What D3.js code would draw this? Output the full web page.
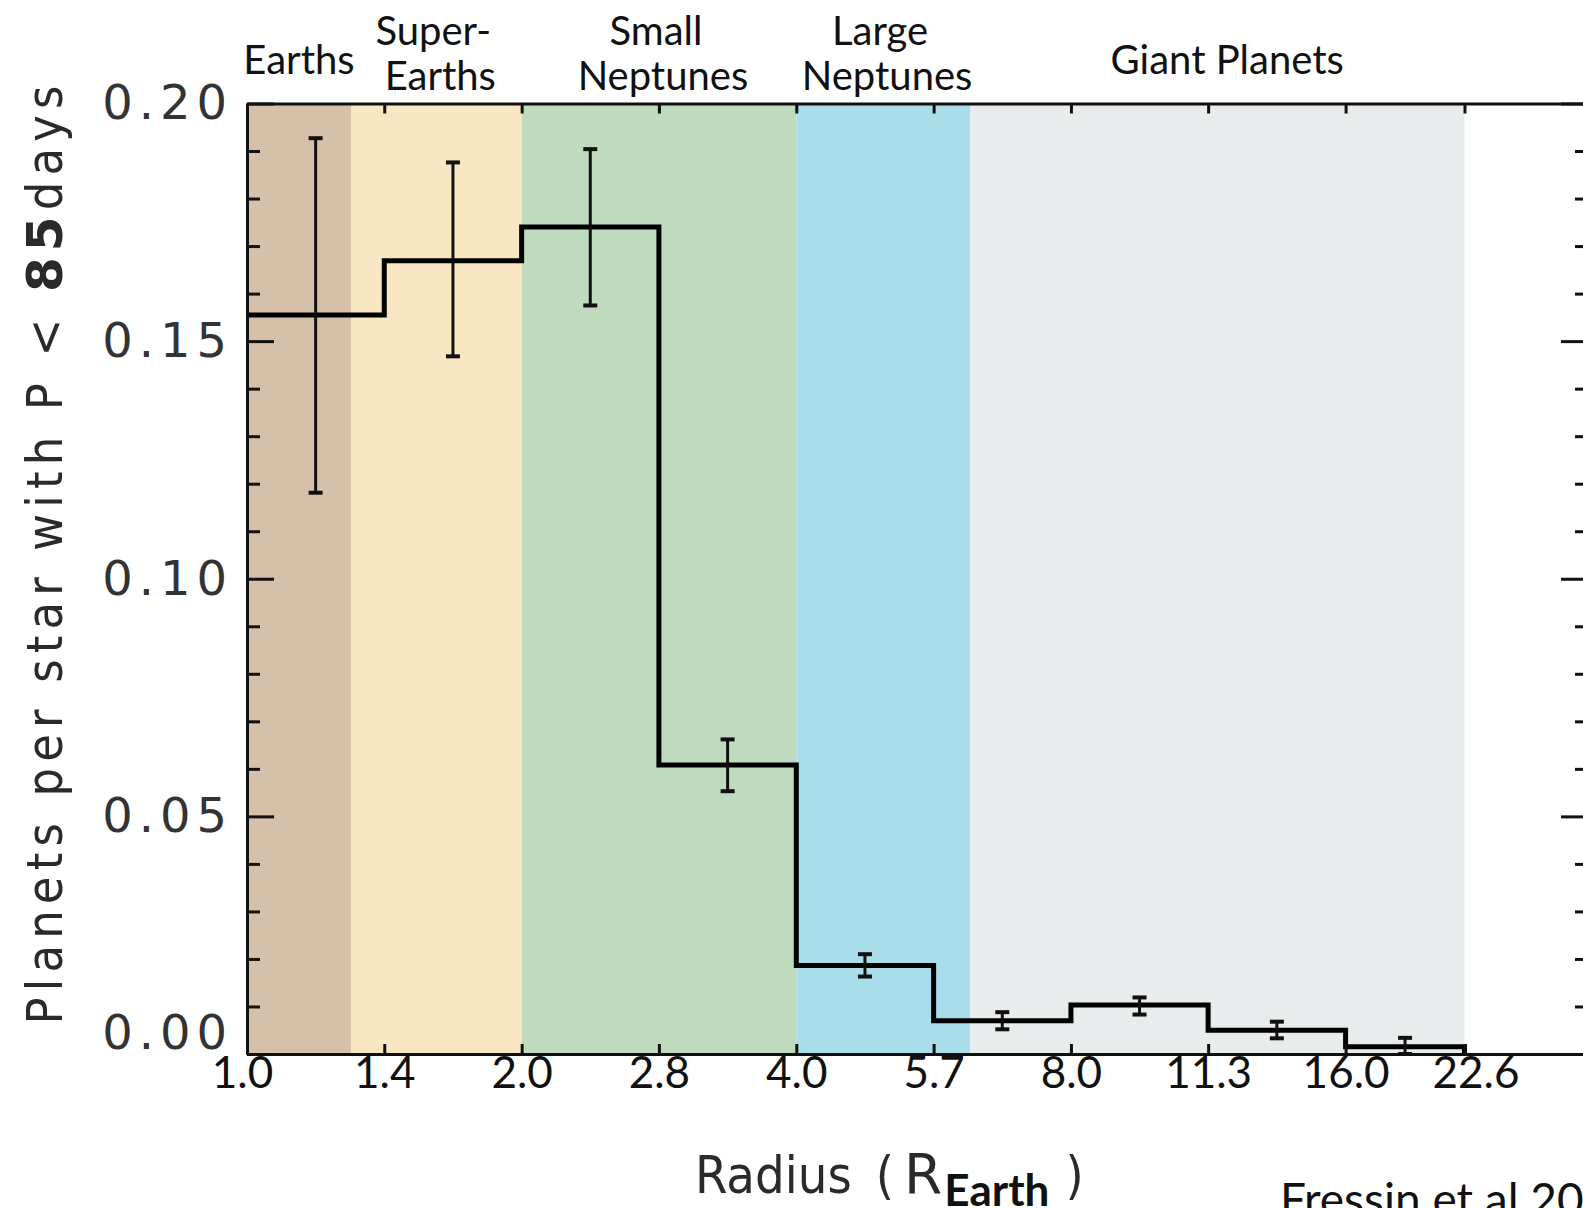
<!DOCTYPE html>
<html><head><meta charset="utf-8">
<script src="https://cdn.jsdelivr.net/npm/d3@7"></script>
<style>
html,body{margin:0;padding:0;background:#fff;overflow:hidden}
</style></head><body>
<svg id="chart" width="1583" height="1208"></svg>
<script>
// ---- data ----
const binEdges = [1.0, 1.414, 2.0, 2.828, 4.0, 5.657, 8.0, 11.31, 16.0, 21.6];
const rates    = [0.1555, 0.1669, 0.1740, 0.0608, 0.0186, 0.0070, 0.0103, 0.0050, 0.0015];
const errLow   = [0.1181, 0.1468, 0.1575, 0.0553, 0.0163, 0.0052, 0.0083, 0.0033, 0.0000];
const errHigh  = [0.1927, 0.1876, 0.1904, 0.0662, 0.0210, 0.0088, 0.0119, 0.0068, 0.0034];
const classNames  = [["Earths"], ["Super-", "Earths"], ["Small", "Neptunes"], ["Large", "Neptunes"], ["Giant Planets"]];
const classEdges  = [1.0, 1.3, 2.0, 4.0, 6.2, 21.6];
const classColors = ["#d7c0a9", "#f9e7c3", "#bedcbd", "#a9dde9", "#e9eced"];
const xTickValues = [1.0, 1.414, 2.0, 2.828, 4.0, 5.657, 8.0, 11.31, 16.0, 21.6];
const xTickLabels = ["1.0", "1.4", "2.0", "2.8", "4.0", "5.7", "8.0", "11.3", "16.0", "22.6"];
const yMajorTicks = [0.00, 0.05, 0.10, 0.15, 0.20];
const yMinorTicks = [0.01, 0.02, 0.03, 0.04, 0.06, 0.07, 0.08, 0.09, 0.11, 0.12, 0.13, 0.14, 0.16, 0.17, 0.18, 0.19];
const xDomain = [1.0, 29.5];
const yDomain = [0, 0.20];

// ---- layout ----
const L = 247, R = 1588, T = 103.5, B = 1054;
const hershey = "'DejaVu Sans Condensed', 'DejaVu Sans', sans-serif";
const svg = d3.select("#chart");
svg.append("rect").attr("width", 1583).attr("height", 1208).attr("fill", "#fff");

const x = d3.scaleLog().base(2).domain(xDomain).range([L, R]);
const y = d3.scaleLinear().domain(yDomain).range([B, T]);

// class bands
svg.append("g").selectAll("rect").data(classColors).join("rect")
  .attr("x", (d, i) => x(classEdges[i]))
  .attr("width", (d, i) => x(classEdges[i + 1]) - x(classEdges[i]))
  .attr("y", T).attr("height", B - T)
  .attr("fill", d => d);

// class labels
const labG = svg.append("g").attr("font-family", "Lato, 'Open Sans', sans-serif")
  .attr("font-size", 40).attr("text-anchor", "middle").attr("fill", "#111");
classNames.forEach((lines, i) => {
  const cx = (x(classEdges[i]) + x(classEdges[i + 1])) / 2;
  if (lines.length === 1) {
    labG.append("text").attr("x", cx).attr("y", 74).attr("dx", i === classNames.length - 1 ? 10 : 0).text(lines[0]);
  } else {
    labG.append("text").attr("x", cx).attr("y", 45).attr("dx", -3).text(lines[0]);
    labG.append("text").attr("x", cx).attr("y", 90).attr("dx", 4).text(lines[1]);
  }
});

// histogram step line
const pts = binEdges.slice(0, -1).map((e, i) => [e, rates[i]]);
pts.push([binEdges[binEdges.length - 1], 0]);
const line = d3.line().x(d => x(d[0])).y(d => y(d[1])).curve(d3.curveStepAfter);
svg.append("path").attr("d", line(pts)).attr("fill", "none")
  .attr("stroke", "#000").attr("stroke-width", 5).attr("stroke-linejoin", "miter");

// error bars
const eb = svg.append("g").attr("stroke", "#111");
rates.forEach((r, i) => {
  const cx = x(Math.sqrt(binEdges[i] * binEdges[i + 1]));
  eb.append("line").attr("x1", cx).attr("x2", cx).attr("y1", y(errLow[i])).attr("y2", y(errHigh[i])).attr("stroke-width", 3);
  [errLow[i], errHigh[i]].forEach(v => {
    eb.append("line").attr("x1", cx - 7).attr("x2", cx + 7).attr("y1", y(v)).attr("y2", y(v)).attr("stroke-width", 4);
  });
});

// axes
function styleAxis(g) {
  g.selectAll("path.domain").attr("stroke", "#111").attr("stroke-width", 3);
  g.selectAll(".tick line").attr("stroke", "#111").attr("stroke-width", 3);
}
// left
const gl = svg.append("g").attr("transform", `translate(${L},0)`)
  .call(d3.axisLeft(y).tickValues(yMajorTicks).tickSize(-27).tickSizeOuter(0).tickPadding(14).tickFormat(d3.format(".2f")));
styleAxis(gl);
gl.selectAll("text").attr("font-family", "'DejaVu Sans', sans-serif").attr("font-weight", 400)
  .attr("font-size", 48).attr("letter-spacing", 6).attr("fill", "#333")
  .attr("dy", d => d === 0 ? "0em" : "0.32em")
  .attr("y", d => d === 0 ? -6 : 0);
const glm = svg.append("g").attr("transform", `translate(${L},0)`)
  .call(d3.axisLeft(y).tickValues(yMinorTicks).tickSize(-13).tickSizeOuter(0).tickFormat(""));
styleAxis(glm);
// right
const gr = svg.append("g").attr("transform", `translate(${R},0)`)
  .call(d3.axisRight(y).tickValues(yMajorTicks).tickSize(-27).tickSizeOuter(0).tickFormat(""));
styleAxis(gr);
const grm = svg.append("g").attr("transform", `translate(${R},0)`)
  .call(d3.axisRight(y).tickValues(yMinorTicks).tickSize(-13).tickSizeOuter(0).tickFormat(""));
styleAxis(grm);
// bottom
const gb = svg.append("g").attr("transform", `translate(0,${B})`)
  .call(d3.axisBottom(x).tickValues(xTickValues).tickSize(-10).tickSizeOuter(0).tickPadding(3)
    .tickFormat((d, i) => xTickLabels[i]));
styleAxis(gb);
gb.selectAll("text").attr("font-family", "Lato, 'Open Sans', sans-serif").attr("font-size", 44).attr("fill", "#111")
  .attr("dx", (d, i) => i === xTickValues.length - 1 ? 11 : (i === 0 ? -5 : 0));
// top
const gt = svg.append("g").attr("transform", `translate(0,${T})`)
  .call(d3.axisTop(x).tickValues(xTickValues).tickSize(-10).tickSizeOuter(0).tickFormat(""));
styleAxis(gt);

// axis titles
svg.append("text")
  .attr("transform", `translate(62,555) rotate(-90)`)
  .attr("text-anchor", "middle").attr("font-family", hershey).attr("font-weight", 400)
  .attr("font-size", 50).attr("fill", "#2a2a2a")
  .call(t => {
    t.append("tspan").text("Planets per star with P < ");
    t.append("tspan").attr("font-weight", 700).attr("font-family", "'DejaVu Sans', sans-serif").text("85");
    t.append("tspan").text("days");
  })
  .attr("textLength", 939).attr("lengthAdjust", "spacing");

const xt = svg.append("text").attr("x", 695).attr("y", 1193)
  .attr("font-family", hershey).attr("font-weight", 400).attr("font-size", 52).attr("fill", "#2a2a2a");
xt.append("tspan").text("Radius");
xt.append("tspan").attr("dx", 24).text("(");
xt.append("tspan").attr("dx", 10).attr("font-family", "'DejaVu Sans', sans-serif").attr("font-size", 55).text("R");
xt.append("tspan").attr("font-family", "Lato, sans-serif").attr("font-weight", 700).attr("font-size", 44)
  .attr("dx", 2).attr("dy", 13).attr("fill", "#111").text("Earth");
xt.append("tspan").attr("dx", 16).attr("dy", -13).text(")");

svg.append("text").attr("x", 1280).attr("y", 1216)
  .attr("font-family", "Lato, 'Open Sans', sans-serif").attr("font-size", 46).attr("fill", "#111")
  .text("Fressin et al 2013");
</script>
</body></html>
